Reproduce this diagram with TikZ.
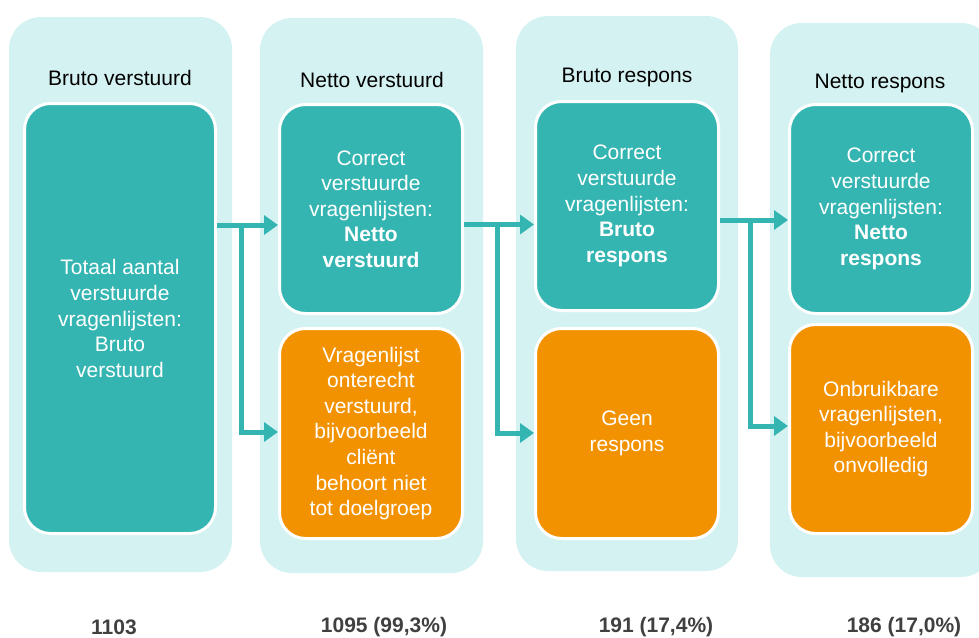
\documentclass[tikz,border=0pt]{standalone}
\usepackage{fontspec}
\setmainfont{Liberation Sans}
\usetikzlibrary{arrows.meta}
\definecolor{teal1}{RGB}{53,181,178}
\definecolor{orange1}{RGB}{243,146,0}
\definecolor{panel1}{RGB}{213,242,242}
\definecolor{numgray}{RGB}{64,64,64}
\begin{document}
\begin{tikzpicture}[x=1pt,y=-1pt,
  panelbox/.style={fill=panel1, rounded corners=32pt},
  basebox/.style={draw=white, line width=3pt, rounded corners=26pt, minimum width=183pt, minimum height=209pt, inner sep=0pt, align=center, text=white, font=\fontsize{21}{25.6}\selectfont},
  tealbox/.style={basebox, fill=teal1},
  orangebox/.style={basebox, fill=orange1},
  title/.style={font=\fontsize{21}{25}\selectfont, text=black},
  numlabel/.style={font=\fontsize{21}{25}\selectfont\bfseries, text=numgray},
  flow/.style={draw=teal1, line width=5pt},
  arr/.style={flow, -{Triangle[length=14pt,width=19pt]}}
]
\useasboundingbox (0,0) rectangle (979,637);
\clip (0,0) rectangle (979,637);
% panels
\fill[panelbox] (9,17) rectangle (232,572);
\fill[panelbox] (260,18) rectangle (483,573);
\fill[panelbox] (516,16) rectangle (738,571);
\fill[panelbox] (770,23) rectangle (993,577);
% titles
\node[title] (t1) at (120,78) {Bruto verstuurd};
\node[title] (t2) at (372,80) {Netto verstuurd};
\node[title] (t3) at (627,77) {Bruto respons};
\node[title] (t4) at (880,83) {Netto respons};
% boxes
\node[tealbox, minimum width=191pt, minimum height=430pt] (b1) at (120,318.5)
  {Totaal aantal\\verstuurde\\vragenlijsten:\\Bruto\\verstuurd};
\node[tealbox] (b2t) at (371,209)
  {Correct\\verstuurde\\vragenlijsten:\\\textbf{Netto}\\\textbf{verstuurd}};
\node[orangebox, minimum height=210pt] (b2o) at (371,433.5)
  {Vragenlijst\\onterecht\\verstuurd,\\bijvoorbeeld\\cliënt\\behoort niet\\tot doelgroep};
\node[tealbox] (b3t) at (627,206)
  {Correct\\verstuurde\\vragenlijsten:\\\textbf{Bruto}\\\textbf{respons}};
\node[orangebox, minimum height=210pt] (b3o) at (627,433.5)
  {Geen\\respons};
\node[tealbox] (b4t) at (881,209)
  {Correct\\verstuurde\\vragenlijsten:\\\textbf{Netto}\\\textbf{respons}};
\node[orangebox] (b4o) at (881,429)
  {Onbruikbare\\vragenlijsten,\\bijvoorbeeld\\onvolledig};
% bottom numbers
\node[numlabel] (n1) at (114,627) {1103};
\node[numlabel] (n2) at (384,627) {1095 (99,3\%)};
\node[numlabel] (n3) at (656,627) {191 (17,4\%)};
\node[numlabel] (n4) at (904,627) {186 (17,0\%)};
% connectors
\coordinate (j1) at (241,225);
\coordinate (k1) at (241,432);
\coordinate (j2) at (497,224.5);
\coordinate (k2) at (497,433);
\coordinate (j3) at (750,220);
\coordinate (k3) at (750,426);
\draw[arr] (b1.east |- j1) -- (b2t.west |- j1);
\draw[flow] ([yshift=-2.5pt]j1) -- (k1);
\draw[arr] ([xshift=-2.5pt]k1) -- (b2o.west |- k1);
\draw[arr] (b2t.east |- j2) -- (b3t.west |- j2);
\draw[flow] ([yshift=-2.5pt]j2) -- (k2);
\draw[arr] ([xshift=-2.5pt]k2) -- (b3o.west |- k2);
\draw[arr] (b3t.east |- j3) -- (b4t.west |- j3);
\draw[flow] ([yshift=-2.5pt]j3) -- (k3);
\draw[arr] ([xshift=-2.5pt]k3) -- (b4o.west |- k3);
\end{tikzpicture}
\end{document}
